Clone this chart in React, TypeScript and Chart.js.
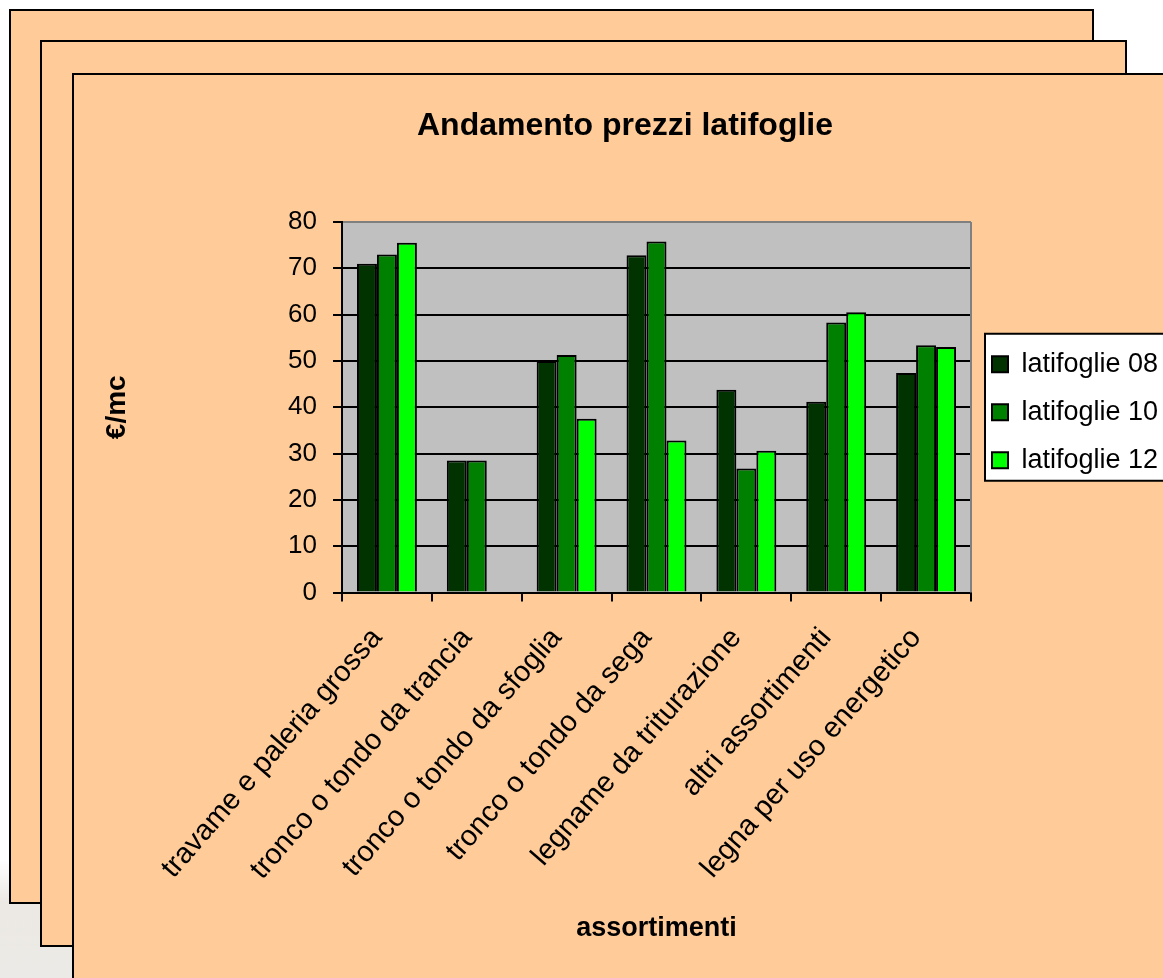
import React, { useEffect, useRef } from 'react';
import { Chart, registerables } from 'chart.js';

Chart.register(...registerables);

const categories = [
  'travame e paleria grossa',
  'tronco o tondo da trancia',
  'tronco o tondo da sfoglia',
  'tronco o tondo da sega',
  'legname da triturazione',
  'altri assortimenti',
  'legna per uso energetico',
];
const latifoglie08 = [71, 28.5, 50, 72.8, 43.8, 41.2, 47.4];
const latifoglie10 = [73, 28.5, 51.3, 75.8, 26.8, 58.3, 53.4];
const latifoglie12 = [75.5, null, 37.5, 32.8, 30.6, 60.5, 53.0];
const seriesLabels = ['latifoglie 08', 'latifoglie 10', 'latifoglie 12'];
const seriesColors = ['#003300', '#008000', '#00FF00'];
const yMin = 0;
const yMax = 80;
const yStep = 10;
const titleText = 'Andamento prezzi latifoglie';
const yTitleText = '€/mc';
const xTitleText = 'assortimenti';

const FONT = "'Liberation Sans', Arial, Helvetica, sans-serif";
const LEGEND_FONT_SIZE = 27;
const LEGEND_SPACER = 10;

const framePlugin = {
  id: 'frame',
  beforeDraw(chart: any) {
    const { ctx, chartArea: a, legend } = chart;
    ctx.save();
    ctx.fillStyle = '#C0C0C0';
    ctx.fillRect(a.left, a.top, a.right - a.left, a.bottom - a.top);
    if (legend) {
      const pad = legend.options.labels.padding;
      const n = legend.legendItems ? legend.legendItems.length : 3;
      const colH = n * (LEGEND_FONT_SIZE + pad);
      const y0 = (legend.top + LEGEND_SPACER + pad + legend.bottom - colH) / 2;
      const x = legend.left + 14;
      const top = y0 - 17;
      const h = colH - pad + 24;
      ctx.fillStyle = '#FFFFFF';
      ctx.fillRect(x, top, 400, h);
      ctx.strokeStyle = '#000000';
      ctx.lineWidth = 2;
      ctx.strokeRect(x, top, 400, h);
    }
    ctx.restore();
  },
  afterDatasetsDraw(chart: any) {
    const { ctx, chartArea: a } = chart;
    ctx.save();
    ctx.strokeStyle = '#808080';
    ctx.lineWidth = 2;
    ctx.beginPath();
    ctx.moveTo(a.right, a.top);
    ctx.lineTo(a.right, a.bottom);
    ctx.stroke();
    ctx.restore();
  },
};

function BarChart() {
  const ref = useRef<HTMLCanvasElement | null>(null);
  useEffect(() => {
    if (!ref.current) return;
    const seriesData = [latifoglie08, latifoglie10, latifoglie12];
    const chart = new Chart(ref.current, {
      type: 'bar',
      data: {
        labels: categories,
        datasets: seriesLabels.map((label, i) => ({
          label,
          data: seriesData[i],
          backgroundColor: seriesColors[i],
          borderColor: '#000000',
          borderWidth: 2,
          categoryPercentage: 0.667,
          barPercentage: 1,
        })),
      },
      options: {
        animation: false,
        responsive: false,
        devicePixelRatio: 1,
        layout: { padding: { left: 87, right: 0, top: 0, bottom: 0 } },
        plugins: {
          title: {
            display: true,
            text: titleText,
            color: '#000000',
            font: { family: FONT, size: 32, weight: 'bold' },
            padding: { top: 107, bottom: 76.6 },
          },
          legend: {
            position: 'right',
            align: 'center',
            fullSize: false,
            maxWidth: 192,
            title: {
              display: true,
              text: ' ',
              padding: 0,
              font: { family: FONT, size: LEGEND_SPACER / 1.2 },
            },
            labels: {
              color: '#000000',
              font: { family: FONT, size: LEGEND_FONT_SIZE },
              boxWidth: 16,
              boxHeight: 16,
              padding: 21,
            },
          },
          tooltip: { enabled: false },
        },
        scales: {
          x: {
            offset: true,
            grid: {
              display: true,
              drawOnChartArea: false,
              drawTicks: true,
              tickLength: 9,
              color: '#000000',
              lineWidth: 2,
            },
            border: { display: true, color: '#000000', width: 2 },
            ticks: {
              autoSkip: false,
              maxRotation: 49,
              minRotation: 49,
              padding: 20,
              labelOffset: -10,
              color: '#000000',
              font: { family: FONT, size: 29 },
            },
            title: {
              display: true,
              text: xTitleText,
              color: '#000000',
              font: { family: FONT, size: 27, weight: 'bold' },
              padding: { top: 0, bottom: 33 },
            },
            afterFit: (scale: any) => {
              scale.height = 385.5;
            },
          },
          y: {
            min: yMin,
            max: yMax,
            ticks: {
              stepSize: yStep,
              padding: 16,
              color: '#000000',
              font: { family: FONT, size: 26 },
            },
            grid: {
              color: (ctx: any) => (ctx.tick && ctx.tick.value === yMax ? '#808080' : '#000000'),
              tickColor: '#000000',
              lineWidth: 2,
              tickLength: 9,
            },
            border: { display: true, color: '#000000', width: 2 },
            title: {
              display: true,
              text: yTitleText,
              color: '#000000',
              font: { family: FONT, size: 28, weight: 'bold' },
              padding: { top: 13, bottom: 0 },
            },
            afterFit: (scale: any) => {
              scale.width = 255;
            },
          },
        },
      },
      plugins: [framePlugin],
    } as any);
    return () => chart.destroy();
  }, []);
  return (
    <canvas
      ref={ref}
      width={1163}
      height={978}
      style={{ position: 'absolute', left: 0, top: 0, width: 1163, height: 978 }}
    />
  );
}

const panelBase: React.CSSProperties = {
  position: 'absolute',
  background: '#FFCC99',
  border: '2px solid #000000',
  boxSizing: 'border-box',
};

export default function App() {
  return (
    <div
      style={{
        position: 'fixed',
        left: 0,
        top: 0,
        width: 1163,
        height: 978,
        overflow: 'hidden',
        background: '#FFFFFF',
      }}
    >
      <div
        style={{
          position: 'absolute',
          left: 0,
          top: 860,
          width: 80,
          height: 118,
          background: 'linear-gradient(to bottom, rgba(236,234,229,0) 0%, #ECE9E4 35%, #ECEAE6 100%)',
        }}
      />
      <div style={{ ...panelBase, left: 9, top: 9, width: 1085, height: 895 }} />
      <div style={{ ...panelBase, left: 40, top: 40, width: 1087, height: 907 }} />
      <div style={{ ...panelBase, left: 72, top: 73, width: 1100, height: 920 }} />
      <BarChart />
    </div>
  );
}
